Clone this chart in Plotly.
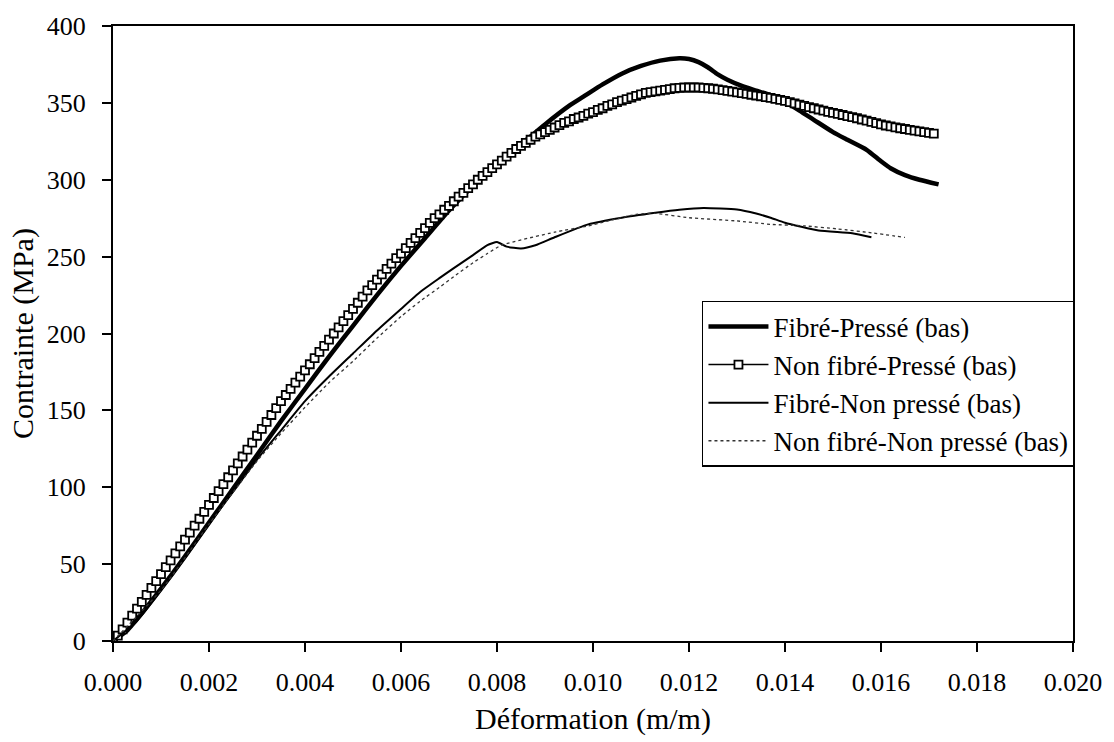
import plotly.graph_objects as go

# ---- Fibré-Pressé (bas) ----
fp_strain = [0.0000, 0.0003, 0.0006, 0.0010, 0.0015, 0.0020, 0.0025, 0.0030, 0.0035,
             0.0040, 0.0045, 0.0050, 0.0055, 0.0060, 0.0065, 0.0070, 0.0075, 0.0080,
             0.0085, 0.0090, 0.0095, 0.0098, 0.0102, 0.0106, 0.0110, 0.0114, 0.0118,
             0.0120, 0.0122, 0.0124, 0.0126, 0.0128, 0.0131, 0.0134, 0.0137, 0.0140,
             0.0143, 0.0146, 0.0150, 0.0153, 0.0157, 0.0160, 0.0162, 0.0165, 0.0168,
             0.0172]
fp_stress = [0, 7, 18, 34, 55, 77, 99, 121, 143,
             164, 185, 205, 225, 244, 262, 280, 296, 310,
             323, 336, 348, 354, 362, 369, 374, 377.5, 379,
             378.5, 376.5, 373, 368.5, 365, 361, 358, 355, 350.5,
             345, 339, 331, 326, 319.5, 312, 307.5, 303, 300,
             297]

# ---- Non fibré-Pressé (bas) ----
nfp_strain = [
    0.0000, 0.0001, 0.0002, 0.0003, 0.0004, 0.0005, 0.0006, 0.0007, 0.0008, 0.0009,
    0.0010, 0.0011, 0.0012, 0.0013, 0.0014, 0.0015, 0.0016, 0.0017, 0.0018, 0.0019,
    0.0020, 0.0021, 0.0022, 0.0023, 0.0024, 0.0025, 0.0026, 0.0027, 0.0028, 0.0029,
    0.0030, 0.0031, 0.0032, 0.0033, 0.0034, 0.0035, 0.0036, 0.0037, 0.0038, 0.0039,
    0.0040, 0.0041, 0.0042, 0.0043, 0.0044, 0.0045, 0.0046, 0.0047, 0.0048, 0.0049,
    0.0050, 0.0051, 0.0052, 0.0053, 0.0054, 0.0055, 0.0056, 0.0057, 0.0058, 0.0059,
    0.0060, 0.0061, 0.0062, 0.0063, 0.0064, 0.0065, 0.0066, 0.0067, 0.0068, 0.0069,
    0.0070, 0.0071, 0.0072, 0.0073, 0.0074, 0.0075, 0.0076, 0.0077, 0.0078, 0.0079,
    0.0080, 0.0081, 0.0082, 0.0083, 0.0084, 0.0085, 0.0086, 0.0087, 0.0088, 0.0089,
    0.0090, 0.0091, 0.0092, 0.0093, 0.0094, 0.0095, 0.0096, 0.0097, 0.0098, 0.0099,
    0.0100, 0.0101, 0.0102, 0.0103, 0.0104, 0.0105, 0.0106, 0.0107, 0.0108, 0.0109,
    0.0110, 0.0111, 0.0112, 0.0113, 0.0114, 0.0115, 0.0116, 0.0117, 0.0118, 0.0119,
    0.0120, 0.0121, 0.0122, 0.0123, 0.0124, 0.0125, 0.0126, 0.0127, 0.0128, 0.0129,
    0.0130, 0.0131, 0.0132, 0.0133, 0.0134, 0.0135, 0.0136, 0.0137, 0.0138, 0.0139,
    0.0140, 0.0141, 0.0142, 0.0143, 0.0144, 0.0145, 0.0146, 0.0147, 0.0148, 0.0149,
    0.0150, 0.0151, 0.0152, 0.0153, 0.0154, 0.0155, 0.0156, 0.0157, 0.0158, 0.0159,
    0.0160, 0.0161, 0.0162, 0.0163, 0.0164, 0.0165, 0.0166, 0.0167, 0.0168, 0.0169,
    0.0170, 0.0171]
nfp_stress = [
    0, 3.5, 7.5, 12, 16.5, 21, 25.5, 30, 34.5, 39,
    43.5, 48, 52.5, 57, 61.5, 66, 70.5, 75, 79.5, 84,
    88.5, 93, 97.5, 102, 106.5, 111, 115.5, 120, 124.5, 129,
    133.5, 138, 142.5, 147, 151.5, 156, 160, 164, 168, 172,
    176, 180, 184, 188, 192, 196, 200, 204, 208, 212,
    216, 220, 224, 228, 231.5, 235, 238.5, 242, 245.5, 249,
    252, 255.5, 259, 262, 265.5, 268.5, 272, 275, 277.5, 280.5,
    283, 286, 289, 291.5, 294.5, 297, 300, 302.5, 305, 307.5,
    310, 312.5, 315, 317.5, 320, 322, 324, 326, 328, 329.5,
    331, 332.5, 334, 335.5, 337, 338, 339.5, 340.5, 341.5, 343,
    344, 345.5, 346.5, 348, 349, 350.5, 351.5, 352.5, 353.5, 354.5,
    355.5, 356.5, 357, 357.5, 358, 358.5, 359, 359.5, 359.7, 360,
    360, 360, 360, 359.8, 359.5, 359.2, 358.8, 358.3, 357.8, 357.3,
    356.8, 356.3, 355.8, 355.3, 354.8, 354.3, 353.8, 353.2, 352.6, 352,
    351.3, 350.5, 349.7, 348.9, 348.1, 347.3, 346.5, 345.7, 345, 344.2,
    343.5, 342.8, 342.1, 341.4, 340.7, 340, 339.2, 338.4, 337.6, 336.8,
    336, 335.3, 334.7, 334.1, 333.5, 333, 332.5, 332, 331.5, 331,
    330.5, 330]

# ---- Fibré-Non pressé (bas) ----
fnp_strain = [0.0000, 0.0005, 0.0010, 0.0015, 0.0020, 0.0025, 0.0030, 0.0035, 0.0040,
              0.0045, 0.0050, 0.0055, 0.0060, 0.0064, 0.0068, 0.0071, 0.0075, 0.0078,
              0.0080, 0.0082, 0.0085, 0.0088, 0.0092, 0.0099, 0.0106, 0.0113, 0.0118,
              0.0123, 0.0130, 0.0134, 0.0137, 0.0140, 0.0147, 0.0154, 0.0158]
fnp_stress = [0, 13, 33, 54, 76, 97, 118, 137, 156,
              172, 187, 202, 216, 227, 236, 242.5, 251, 257.5,
              259.5, 256.5, 255.3, 257.4, 262.6, 271, 275.3, 278.5, 280.5,
              281.7, 280.6, 278, 275.3, 272, 267, 265.2, 262.6]

# ---- Non fibré-Non pressé (bas) ----
nfnp_strain = [0.0000, 0.0010, 0.0020, 0.0030, 0.0035, 0.0040, 0.0045, 0.0050, 0.0055,
               0.0060, 0.0064, 0.0068, 0.0071, 0.0075, 0.0078, 0.0081, 0.0092, 0.0099,
               0.0109, 0.0113, 0.0120, 0.0130, 0.0137, 0.0144, 0.0151, 0.0158, 0.0165]
nfnp_stress = [0, 33, 76, 117, 135, 152, 168, 182, 197,
               211, 221, 230, 237, 246, 252, 257.5, 265.9, 270,
               277.5, 278.1, 275.3, 273.2, 271, 270, 268, 265.5, 262.5]

x_ticks = [0.000, 0.002, 0.004, 0.006, 0.008, 0.010, 0.012, 0.014, 0.016, 0.018, 0.020]
x_ticklabels = ["0.000", "0.002", "0.004", "0.006", "0.008", "0.010",
                "0.012", "0.014", "0.016", "0.018", "0.020"]
y_ticks = [0, 50, 100, 150, 200, 250, 300, 350, 400]

FONT = "Liberation Serif, Times New Roman, serif"

fig = go.Figure()
fig.add_trace(go.Scatter(
    x=fp_strain, y=fp_stress, mode="lines", name="Fibré-Pressé (bas)",
    line=dict(color="black", width=4.5, shape="spline", smoothing=0.5)))
fig.add_trace(go.Scatter(
    x=nfp_strain, y=nfp_stress, mode="lines+markers", name="Non fibré-Pressé (bas)",
    line=dict(color="black", width=1.5),
    marker=dict(symbol="square", size=8, color="white",
                line=dict(color="black", width=1.8))))
fig.add_trace(go.Scatter(
    x=fnp_strain, y=fnp_stress, mode="lines", name="Fibré-Non pressé (bas)",
    line=dict(color="black", width=2, shape="spline", smoothing=0.5)))
fig.add_trace(go.Scatter(
    x=nfnp_strain, y=nfnp_stress, mode="lines", name="Non fibré-Non pressé (bas)",
    line=dict(color="#333333", width=1.3, dash="dot", shape="spline", smoothing=0.5)))

axis_common = dict(showgrid=False, zeroline=False, linecolor="black", linewidth=2,
                   tickcolor="black", tickwidth=1.5, ticklen=9,
                   tickfont=dict(family=FONT, size=26, color="black"))

fig.update_layout(
    width=1114, height=742,
    margin=dict(l=113, r=41, t=20, b=91),
    paper_bgcolor="white", plot_bgcolor="white",
    font=dict(family=FONT, size=26, color="black"),
    xaxis=dict(range=[0, 0.020], tickvals=x_ticks, ticktext=x_ticklabels,
               ticks="outside", mirror=True, ticklabelstandoff=8,
               title=dict(text="Déformation (m/m)", font=dict(family=FONT, size=30),
                          standoff=12),
               **axis_common),
    yaxis=dict(range=[0, 400], tickvals=y_ticks, ticks="outside", mirror=True,
               ticklabelstandoff=11,
               title=dict(text="Contrainte (MPa)", font=dict(family=FONT, size=30),
                          standoff=4),
               **axis_common),
    # second pair of axes adds the inner half of each crossing tick
    xaxis2=dict(range=[0, 0.020], tickvals=x_ticks, ticks="inside", ticklen=9,
                tickwidth=1.5, tickcolor="black", showticklabels=False,
                showline=False, showgrid=False, zeroline=False,
                overlaying="x", anchor="y", side="bottom"),
    yaxis2=dict(range=[0, 400], tickvals=y_ticks, ticks="inside", ticklen=9,
                tickwidth=1.5, tickcolor="black", showticklabels=False,
                showline=False, showgrid=False, zeroline=False,
                overlaying="y", anchor="x", side="left"),
    legend=dict(x=0.6135, y=0.553, xanchor="left", yanchor="top",
                bgcolor="white", bordercolor="black", borderwidth=1.5,
                font=dict(family=FONT, size=27, color="black"),
                itemwidth=60, tracegroupgap=0),
    showlegend=True,
)

fig.write_html("out.html")
